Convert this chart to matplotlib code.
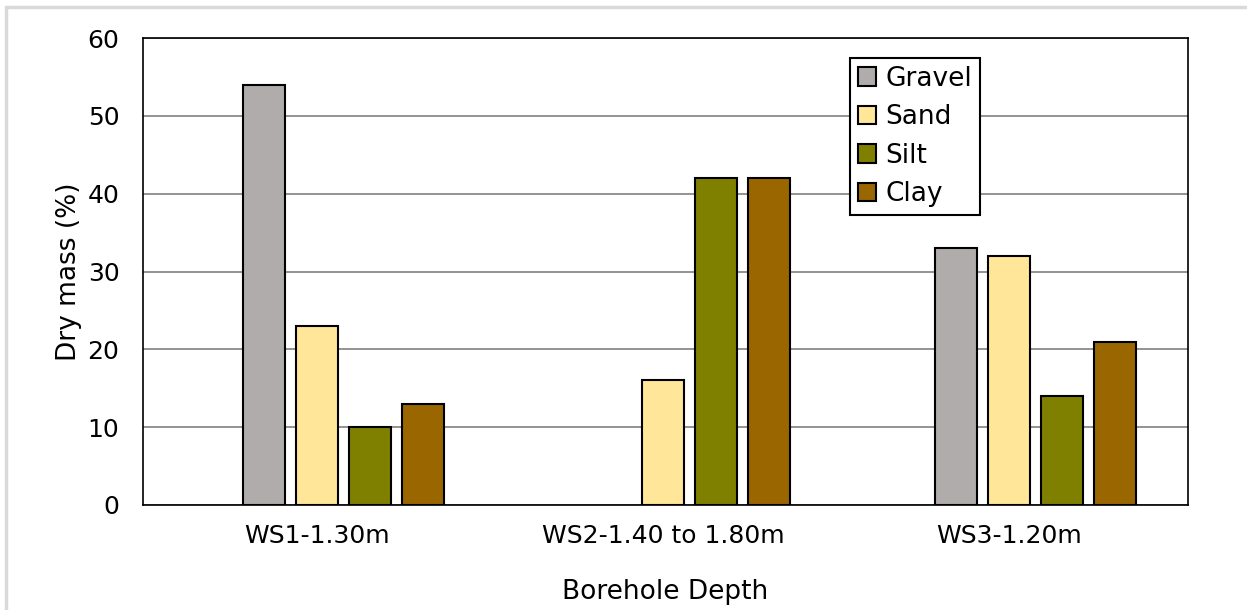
import numpy as np
import matplotlib.pyplot as plt
from matplotlib.patches import Rectangle

# particle size distribution per borehole sample
samples = ['WS1-1.30m', 'WS2-1.40 to 1.80m', 'WS3-1.20m']
fractions = ['Gravel', 'Sand', 'Silt', 'Clay']
gravel = [54, 0, 33]
sand = [23, 16, 32]
silt = [10, 42, 14]
clay = [13, 42, 21]
colours = ['#B0ACAC', '#FFE699', '#808000', '#996600']

fig = plt.figure(figsize=(12.47, 6.10), dpi=100)
ax = fig.add_axes([143 / 1247, 1 - 505 / 610, 1045 / 1247, 467 / 610])

# light frame round the whole chart
fig.patches.append(Rectangle((6 / 1247, -0.1), 1.2, 1 - 7 / 610 + 0.1,
                             transform=fig.transFigure, fill=False,
                             edgecolor='#D9D9D9', linewidth=2.5))

x = np.arange(len(samples))
slot = 53 / 346
width = 42 / 346
for i, (name, vals, c) in enumerate(zip(fractions, [gravel, sand, silt, clay], colours)):
    vals = np.array(vals, dtype=float)
    xs = x + (i - 1) * slot
    keep = vals > 0
    ax.bar(xs[keep], vals[keep], width, color=c, edgecolor='black',
           linewidth=1.5, label=name, zorder=3)

ax.set_xlim(-174 / 346, -174 / 346 + 1045 / 346)
ax.set_ylim(0, 60)
ax.set_yticks(range(0, 61, 10))
ax.set_xticks(x)
ax.set_xticklabels(samples)
ax.tick_params(axis='both', length=0, labelsize=18)
ax.tick_params(axis='x', pad=14)
ax.tick_params(axis='y', pad=17)
ax.grid(axis='y', color='#808080', linewidth=1.2, zorder=0)
for s in ax.spines.values():
    s.set_linewidth(1.2)
ax.set_ylabel('Dry mass (%)', fontsize=19, labelpad=4)
ax.set_xlabel('Borehole Depth', fontsize=19, labelpad=22)

leg = ax.legend(loc='upper left', bbox_to_anchor=(707 / 1045, 1 - 20 / 467),
                fontsize=19, frameon=True, fancybox=False, edgecolor='black',
                framealpha=1, handlelength=0.7, handleheight=0.7,
                handletextpad=0.35, borderpad=0.3, labelspacing=0.47,
                borderaxespad=0)
leg.get_frame().set_linewidth(1.5)

fig.savefig('out.png', dpi=100, facecolor='white')
